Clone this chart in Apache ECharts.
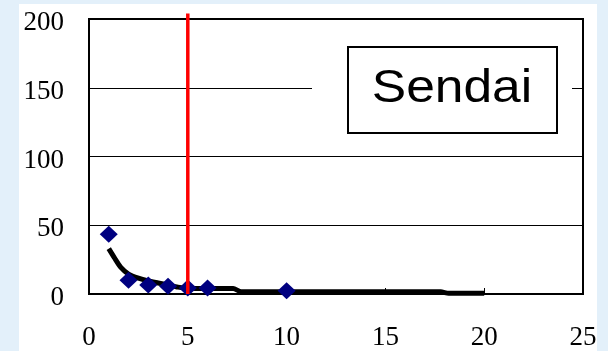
<!DOCTYPE html>
<html>
<head>
<meta charset="utf-8">
<script src="https://cdn.jsdelivr.net/npm/echarts@6/dist/echarts.min.js"></script>
<style>
html,body{margin:0;padding:0;background:#e3f0fa;}
#chart{width:608px;height:351px;}
</style>
</head>
<body>
<div id="chart"></div>
<script>
// Observed points (navy diamonds)
var pointX = [1, 2, 3, 4, 5, 6, 10];
var pointY = [43.5, 10, 6.5, 5.6, 4.3, 4.3, 2.4];
// Black fitted curve
var curveX = [1, 1.3, 1.6, 2, 2.5, 3, 3.5, 4, 4.5, 5, 6, 7.3, 7.7, 17.8, 18.2, 20];
var curveY = [33, 26, 19.5, 14.5, 11.5, 9.5, 8, 6.5, 5, 4.2, 4, 4, 1.6, 1.6, 0.5, 0.5];
// Vertical red marker line
var markerX = 5;
var markerY = [0, 204];
// Axis ticks
var xTicks = [0, 5, 10, 15, 20, 25];
var yTicks = [0, 50, 100, 150, 200];
var labelText = 'Sendai';

var chart = echarts.init(document.getElementById('chart'), null, {renderer: 'canvas'});

function zip(a, b) { return a.map(function (v, i) { return [v, b[i]]; }); }

var option = {
  backgroundColor: '#e3f0fa',
  animation: false,
  grid: {
    left: 89, top: 19, right: 25, bottom: 56,
    show: true, borderColor: '#000', borderWidth: 2, backgroundColor: '#fff'
  },
  xAxis: {
    type: 'value',
    min: xTicks[0], max: xTicks[xTicks.length - 1], interval: 5,
    axisLine: {show: true, onZero: false, lineStyle: {color: '#000', width: 2}},
    axisTick: {show: true, inside: true, length: 6, lineStyle: {color: '#000', width: 1}},
    axisLabel: {
      color: '#000', fontFamily: 'Liberation Serif', fontSize: 27, margin: 30
    },
    splitLine: {show: false}
  },
  yAxis: {
    type: 'value',
    min: yTicks[0], max: yTicks[yTicks.length - 1], interval: 50,
    axisLine: {show: true, lineStyle: {color: '#000', width: 2}},
    axisTick: {show: false},
    axisLabel: {
      color: '#000', fontFamily: 'Liberation Serif', fontSize: 27, margin: 25,
      formatter: '{v|{value}}',
      rich: {
        v: {color: '#000', fontFamily: 'Liberation Serif', fontSize: 27, padding: [8, 0, 0, 0]}
      }
    },
    splitLine: {show: true, lineStyle: {color: '#000', width: 1}}
  },
  graphic: [
    {
      type: 'rect', z: -10, silent: true,
      shape: {x: 19, y: 4, width: 578, height: 360},
      style: {fill: '#ffffff'}
    },
    {
      type: 'rect', z: 10, silent: true,
      shape: {x: 312, y: 40, width: 260, height: 100},
      style: {fill: '#ffffff'}
    },
    {
      type: 'rect', z: 11, silent: true,
      shape: {x: 348, y: 47, width: 209, height: 86},
      style: {fill: '#ffffff', stroke: '#000', lineWidth: 2}
    },
    {
      type: 'text', z: 12, silent: true,
      x: 452, y: 89, scaleX: 1.12, scaleY: 1,
      style: {
        text: labelText, fontFamily: 'Liberation Sans', fontSize: 46,
        fill: '#000', align: 'center', verticalAlign: 'middle'
      }
    }
  ],
  series: [
    {
      name: 'curve', type: 'line', z: 3,
      data: zip(curveX, curveY),
      showSymbol: false, symbol: 'none', smooth: 0.2,
      lineStyle: {color: '#000', width: 5}
    },
    {
      name: 'points', type: 'scatter', z: 4,
      data: zip(pointX, pointY),
      symbol: 'diamond', symbolSize: [18, 17],
      itemStyle: {color: '#000080', opacity: 1}
    },
    {
      name: 'marker', type: 'line', z: 5, clip: false,
      data: [[markerX, markerY[0]], [markerX, markerY[1]]],
      symbol: 'none', showSymbol: false,
      lineStyle: {color: '#ff0000', width: 3.5}
    }
  ]
};
chart.setOption(option);
</script>
</body>
</html>
